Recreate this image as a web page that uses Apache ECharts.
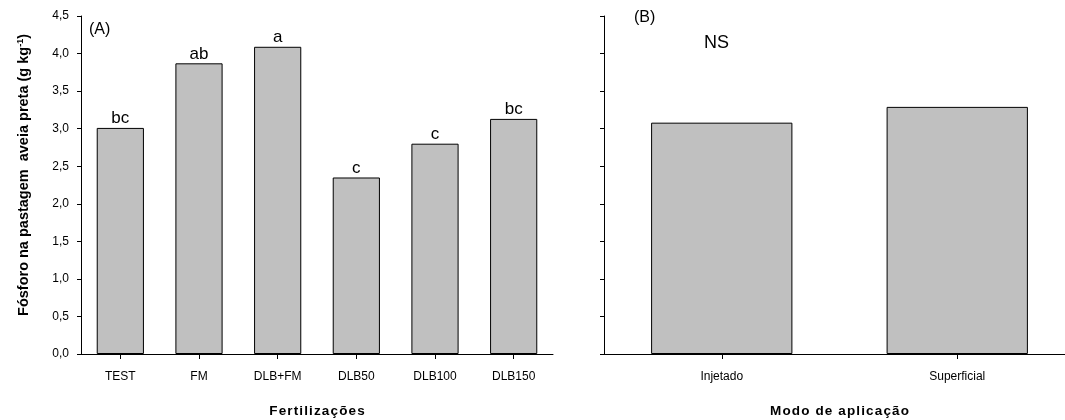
<!DOCTYPE html>
<html><head><meta charset="utf-8">
<script src="https://cdn.jsdelivr.net/npm/echarts@6/dist/echarts.min.js"></script>
<style>html,body{margin:0;padding:0;background:#fff;overflow:hidden}#c{width:1065px;height:420px}</style>
</head><body><div id="c"></div>
<script>
const fertCategories = ['TEST', 'FM', 'DLB+FM', 'DLB50', 'DLB100', 'DLB150'];
const fertValues = [3.01, 3.87, 4.09, 2.35, 2.80, 3.13];
const fertLetters = ['bc', 'ab', 'a', 'c', 'c', 'bc'];
const modeCategories = ['Injetado', 'Superficial'];
const modeValues = [3.08, 3.29];
const yTicks = ['0,0','0,5','1,0','1,5','2,0','2,5','3,0','3,5','4,0','4,5'];

const FONT = '"Liberation Sans", Arial, sans-serif';
const spaced = (s) => s.split('').join('\u200A');
const chart = echarts.init(document.getElementById('c'));
const axisLine = {show: true, lineStyle: {color: '#000', width: 1}};
const yTick = {show: true, length: 4, lineStyle: {color: '#000', width: 1}};
const xTick = {show: true, alignWithLabel: true, length: 5, lineStyle: {color: '#000', width: 1}};
const barStyle = {color: '#c0c0c0', borderColor: '#000', borderWidth: 1};
const titleStyle = {color: '#000', fontSize: 13.5, fontWeight: 'bold', fontFamily: FONT};

chart.setOption({
  animation: false,
  backgroundColor: '#fff',
  textStyle: {fontFamily: FONT},
  grid: [
    {left: 81, top: 16, width: 472, height: 338, containLabel: false, outerBoundsMode: 'none'},
    {left: 604, top: 16, width: 471, height: 338, containLabel: false, outerBoundsMode: 'none'}
  ],
  xAxis: [
    {type: 'category', gridIndex: 0, data: fertCategories, boundaryGap: true,
     axisLine: axisLine, axisTick: xTick,
     axisLabel: {color: '#000', fontSize: 12, fontFamily: FONT, margin: 17},
     name: spaced('Fertilizações'), nameLocation: 'middle', nameGap: 50,
     nameTextStyle: titleStyle},
    {type: 'category', gridIndex: 1, data: modeCategories, boundaryGap: true,
     axisLine: axisLine, axisTick: xTick,
     axisLabel: {color: '#000', fontSize: 12, fontFamily: FONT, margin: 17},
     name: spaced('Modo de aplicação'), nameLocation: 'middle', nameGap: 50,
     nameTextStyle: titleStyle}
  ],
  yAxis: [
    {type: 'value', gridIndex: 0, min: 0, max: 4.5, interval: 0.5,
     axisLine: axisLine, axisTick: yTick, splitLine: {show: false},
     axisLabel: {color: '#000', fontSize: 12, fontFamily: FONT, margin: 12,
       formatter: (v) => yTicks[Math.round(v / 0.5)]}},
    {type: 'value', gridIndex: 1, min: 0, max: 4.5, interval: 0.5,
     axisLine: axisLine, axisTick: yTick, splitLine: {show: false},
     axisLabel: {show: false}}
  ],
  series: [
    {type: 'bar', xAxisIndex: 0, yAxisIndex: 0, data: fertValues, barWidth: '60%',
     itemStyle: barStyle,
     label: {show: true, position: 'top', distance: 1, color: '#000', fontSize: 17, fontFamily: FONT,
       formatter: (p) => fertLetters[p.dataIndex]}},
    {type: 'bar', xAxisIndex: 1, yAxisIndex: 1, data: modeValues, barWidth: '60%',
     itemStyle: barStyle}
  ],
  graphic: [
    {type: 'text', x: 24, y: 175, rotation: Math.PI / 2,
     style: {text: '{t|Fósforo na pastagem  aveia preta (g kg}{s|-1}{t|)}',
       align: 'center', verticalAlign: 'middle', fill: '#000',
       rich: {
         t: {fontSize: 14.5, fontWeight: 'bold', fontFamily: FONT, fill: '#000'},
         s: {fontSize: 9, fontWeight: 'bold', fontFamily: FONT, fill: '#000', verticalAlign: 'top', padding: [0, 0, 7, 0]}}}},
    {type: 'text', left: 89, top: 22, style: {text: '(A)', font: '16px ' + FONT, fill: '#000'}},
    {type: 'text', left: 634, top: 10, style: {text: '(B)', font: '16px ' + FONT, fill: '#000'}},
    {type: 'text', left: 704, top: 34, style: {text: 'NS', font: '18px ' + FONT, fill: '#000'}}
  ]
});
</script></body></html>
